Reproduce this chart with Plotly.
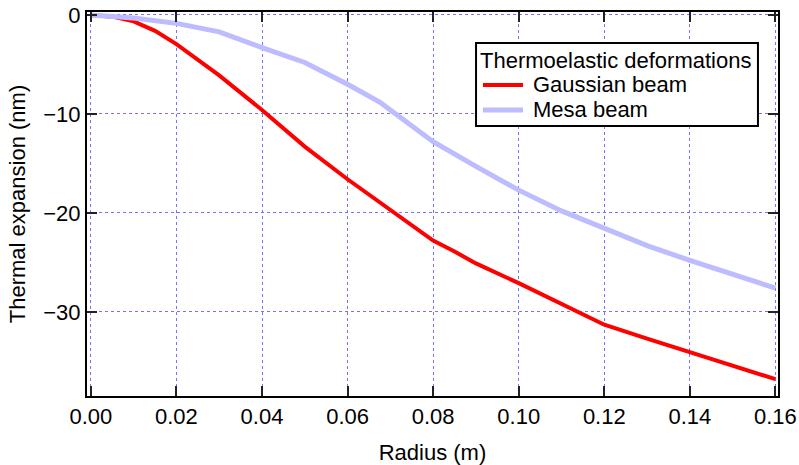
import plotly.graph_objects as go

# radius (m) and thermal expansion (nm)
gauss_r = [0, 0.005, 0.01, 0.015, 0.02, 0.03, 0.04, 0.05, 0.06, 0.07,
           0.08, 0.085, 0.09, 0.10, 0.11, 0.12, 0.13, 0.14, 0.15, 0.16]
gauss_dz = [0, -0.17, -0.65, -1.6, -2.95, -6.1, -9.6, -13.3, -16.6, -19.7,
            -22.8, -23.9, -25.1, -27.1, -29.2, -31.3, -32.7, -34.1, -35.4, -36.8]

mesa_r = [0, 0.01, 0.02, 0.03, 0.04, 0.05, 0.06, 0.0675, 0.07, 0.08,
          0.09, 0.10, 0.11, 0.12, 0.13, 0.14, 0.15, 0.16]
mesa_dz = [0, -0.3, -0.85, -1.7, -3.3, -4.8, -7.0, -8.8, -9.6, -12.8,
           -15.3, -17.7, -19.8, -21.5, -23.3, -24.8, -26.2, -27.6]

x_ticks = [0, 0.02, 0.04, 0.06, 0.08, 0.10, 0.12, 0.14, 0.16]
y_ticks = [0, -10, -20, -30]

series_names = ['Gaussian beam', 'Mesa beam']
series_colors = ['#ff0000', '#bcbcff']
series_widths = [4, 5]
legend_title = 'Thermoelastic deformations'

fig = go.Figure()

for r, dz, name, color, width in zip([gauss_r, mesa_r], [gauss_dz, mesa_dz],
                                     series_names, series_colors, series_widths):
    fig.add_trace(go.Scatter(
        x=r, y=dz, mode='lines', name=name, showlegend=False,
        line=dict(color=color, width=width),
    ))

axis_style = dict(
    showline=True, linecolor='black', linewidth=2,
    mirror='allticks', ticks='inside', ticklen=10, tickwidth=2,
    tickcolor='#222222', automargin=False,
    showgrid=True, gridcolor='#7373ff', gridwidth=1,
    griddash='dot', zeroline=False,
    tickfont=dict(size=22, color='black'),
)

fig.update_xaxes(
    range=[-0.0009, 0.1606], tickvals=x_ticks, tickformat='.2f',
    title=dict(text='Radius (m)', font=dict(size=22, color='black'), standoff=21),
    **axis_style,
)
fig.update_yaxes(
    range=[-38.5, 0.3], tickvals=y_ticks,
    title=dict(text='Thermal expansion (nm)', font=dict(size=22, color='black'), standoff=12),
    **axis_style,
)

# legend box drawn by hand (plotly's own legend rows are too tall at this font size)
fig.add_shape(type='rect', xref='paper', yref='paper',
              x0=0.563, x1=0.971, y0=0.703, y1=0.919,
              line=dict(color='black', width=2), fillcolor='white', layer='above')
fig.add_annotation(xref='paper', yref='paper', x=0.566, y=0.875,
                   text=legend_title, showarrow=False,
                   xanchor='left', yanchor='middle', font=dict(size=22))
for i, (name, color, width) in enumerate(zip(series_names, series_colors, series_widths)):
    yy = 0.810 - i * 0.065
    fig.add_shape(type='line', xref='paper', yref='paper',
                  x0=0.573, x1=0.631, y0=yy, y1=yy,
                  line=dict(color=color, width=width), layer='above')
    fig.add_annotation(xref='paper', yref='paper', x=0.642, y=yy,
                       text=name, showarrow=False,
                       xanchor='left', yanchor='middle', font=dict(size=22))

fig.update_layout(
    width=799, height=465,
    margin=dict(l=87, r=21, t=12, b=69),
    paper_bgcolor='white', plot_bgcolor='white',
    font=dict(family='Liberation Sans, Arial, sans-serif', size=22, color='black'),
)

fig.write_html("out.html", config={'displayModeBar': False},
               post_script="document.body.style.margin='0';")
